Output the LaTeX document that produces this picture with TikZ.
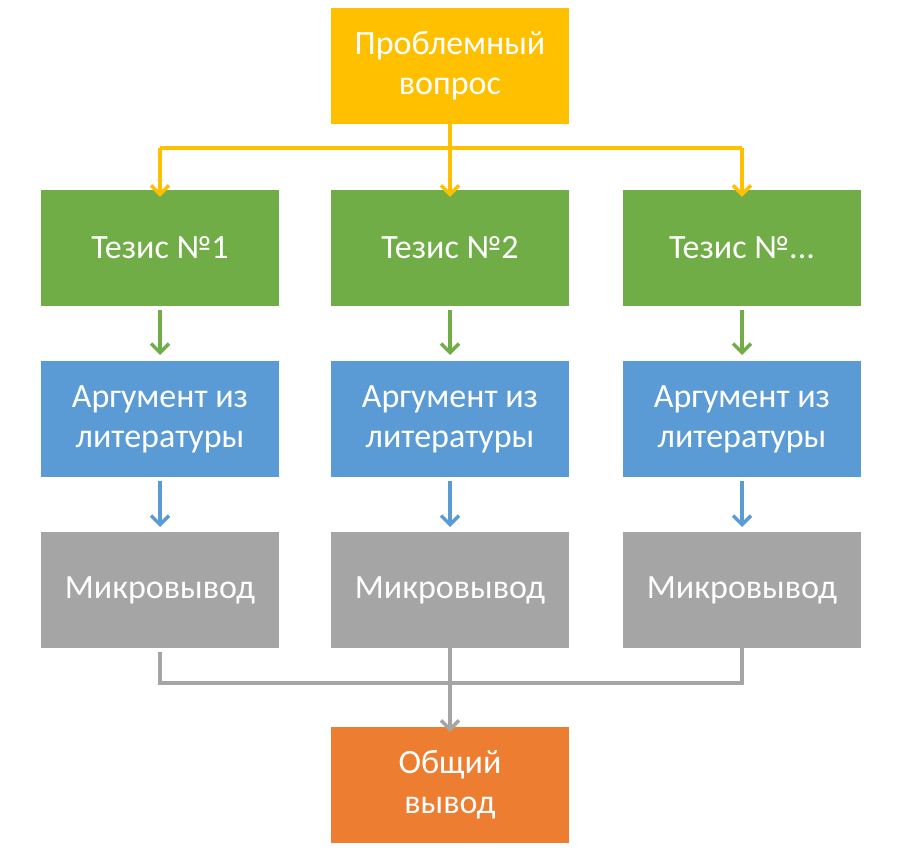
\documentclass[tikz,border=0pt]{standalone}
\usepackage{fontspec}
\setmainfont{Carlito}
\usetikzlibrary{arrows.meta}
\definecolor{cy}{HTML}{FFC000}
\definecolor{cg}{HTML}{70AD47}
\definecolor{cb}{HTML}{5B9BD5}
\definecolor{cgr}{HTML}{A5A5A5}
\definecolor{co}{HTML}{ED7D31}
\begin{document}
\begin{tikzpicture}[x=1pt,y=-1pt,
 box/.style={minimum width=238pt,minimum height=116pt,inner sep=0pt,text=white,font=\fontsize{34}{40}\selectfont,align=center,anchor=center},
 arr/.style={line width=3.5pt,-{Straight Barb[length=9pt,width=18pt,line width=3.5pt]}},
 ln/.style={line width=3.5pt}]
\useasboundingbox (0,0) rectangle (900,858);
\node[box,fill=cy] (top) at (450,66) {Проблемный\\вопрос};
\foreach \i/\x/\t in {1/160/{Тезис №1},2/450/{Тезис №2},3/742/{Тезис №{...}}}{
 \node[box,fill=cg] (t\i) at (\x,248) {\t};
 \node[box,fill=cb] (a\i) at (\x,419) {Аргумент из\\литературы};
 \node[box,fill=cgr] (m\i) at (\x,590) {Микровывод};
 \draw[arr,cg] (t\i.south) ++(0,4) coordinate (s\i) -- (s\i |- 0,355);
 \draw[arr,cb] (a\i.south) ++(0,4) coordinate (u\i) -- (u\i |- 0,527);
}
\node[box,fill=co] (out) at (450,785) {Общий\\вывод};
\coordinate (yh) at (450,148);
\draw[ln,cy] (top.south) -- (yh);
\draw[ln,cy] (t1.north |- yh) -- (t3.north |- yh);
\foreach \i in {1,2,3}{\draw[arr,cy] (t\i.north |- yh) -- ([yshift=-7pt]t\i.north);}
\coordinate (gh) at (450,683);
\draw[ln,cgr] (m1.south) ++(0,4) -- (m1.south |- gh) -- (m3.south |- gh) -- ([yshift=4pt]m3.south);
\draw[ln,cgr] ([yshift=4pt]m2.south) -- (gh);
\draw[arr,cgr] (gh) -- ([yshift=-5pt]out.north);
\end{tikzpicture}
\end{document}
